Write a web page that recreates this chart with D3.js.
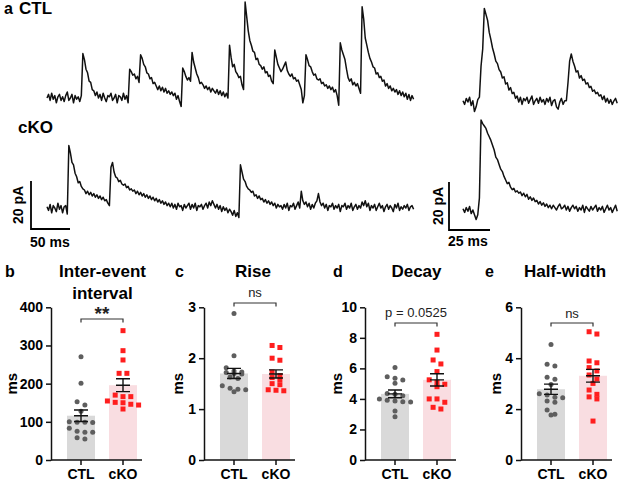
<!DOCTYPE html>
<html><head><meta charset="utf-8">
<script src="https://cdn.jsdelivr.net/npm/d3@7"></script>
<style>body{margin:0;background:#fff} svg{display:block} text{font-family:"Liberation Sans",Arial,sans-serif}</style>
</head><body><svg id="c" width="623" height="486"></svg>
<script>
// ---------------- DATA ----------------
// Example traces (pA above baseline), long traces sampled every 2 ms, short ones every 1 ms
const longStepMs = 2;
const shortStepMs = 1;
const ctlLong = [
 0,1.5,-1,2,-0.5,1,-2,0.5,1.5,-1,
 0.5,-1.5,1,2.5,-1,0,1.5,-2,1,-0.5,
 0.5,-1.5,1,18.5,16,12,10.5,7,6.5,3.5,
 3,1,2.5,0,1.5,-1,2,0,-1.5,1,
 0.5,2,-1,0,1.5,-2,1,0.5,-1,2,
 -0.5,1,-2,12,11,9.5,10,8,9,6.5,
 18,16.5,14,13,10.5,10,8,8.5,6,6.5,
 5,3.5,5,3,4.5,2.5,4,2,3,1.5,
 2.5,1,2,-0.5,1,-1.5,-3.5,12.5,11,9,
 7.5,8.5,7,19,15,12.5,10,8.5,6,6.5,
 5.5,4,5,3.5,4.5,2.5,4,3,2,3.5,
 1.5,3,1,2.5,0.5,2,0,22,17,13,
 14,11,10,8.5,9,5.5,3.5,40,34,28,
 24,22,19.5,19,16,16.5,14,13.5,12,13,
 10.5,11,9,9.5,7,6,20,17,14,12.5,
 11,12,13.5,15,11.5,10,9,10,8,8.5,
 7,7.5,5.5,3.5,-2,1,18,16,13.5,13,
 11,9.5,10,8,7.5,8,6,6.5,5,5.5,
 4,5,3.5,4.5,2.5,3.5,1,-3,23,20,
 18,16,12,8.5,7,8,5.5,6.5,5,6,
 4,2,38,33,25,22,19,16.5,15,13,
 12.5,10,10.5,8.5,9,7,7.5,5,6,4,
 5,3,4,2.5,3.5,1.5,3,1,2.5,0.5,
 2,-0.5,1.5,-1,1,-0.5
];
const ckoLong = [
 0.5,-1,1.5,-2,1,0,-1.5,2,-0.5,1,
 -2,0.5,1,-2.5,26,23,19,18,14.5,13,
 10.5,11,9,8,7.5,6,7,5.5,6.5,5,
 6,4.5,5.5,4,5,3.5,4.5,3,3.5,2,
 1,17,19,15,13,12.5,11,11.5,10,9.5,
 10,8.5,9,7.5,8,7,7.5,6,7,5.5,
 6.5,5,6,4.5,5.5,4,5,3.5,4.5,3,
 4,2.5,3.5,2,3,1.5,2.5,1,2,0.5,
 2,0,1.5,-0.5,2,0.5,1,-1,1.5,0,
 1,2,-0.5,1.5,0,2,-1,1,0.5,1.5,
 -0.5,1,2,0,2.5,1,3,1.5,0,1.5,
 -0.5,1,-1.5,0.5,-1,0,-2,-0.5,-1.5,-3,
 -1,-3.5,-2,-4,18,15,12,11,9,8,
 7.5,6.5,7,5,5.5,4,5,3.5,4,2.5,
 3.5,2,3,1.5,2.5,1,2,0,1.5,0.5,
 1,-0.5,1.5,0,2,-1,1,0.5,2,-0.5,
 1,2.5,0,7,3,1.5,2.5,0.5,2,-0.5,
 1.5,0,2,3,6,2.5,1,2,0,1.5,
 -1,1,0.5,2,-0.5,1,0,1.5,-1.5,1,
 0.5,2,-0.5,1,0,2,-1,0.5,1.5,-0.5,
 1,0,2.5,1,3,0.5,2,-1,1,0,
 1.5,-1,0.5,2,0,1,-1.5,0.5,1.5,-0.5,
 1,0,-1.5,1.5,0,2,-1,0.5,-0.5,1,
 0,1.5,-1,0.5,1,-0.5
];
const ctlShort = [
 0.5,-1,1.5,0,2,-1.5,0.5,-4,-2,1,
 2,15,22,39,36.5,34,29,26,22.5,20,
 17,16,13.5,12.5,10,10.5,7.5,8,5,6,
 3.5,4,1.5,2.5,0,2,-1,1.5,0.5,2,
 -0.5,1,2.5,-1,0.5,1.5,-0.5,2,0,1,
 -1,1.5,0,2,-1.5,0.5,1,-2,-3,0,
 1.5,-1,0.5,0.5,8,17,20,17,15,12.5,
 13,10,11,9,9.5,7.5,8,6,6.5,4.5,
 5,3.5,4,2.5,3,1,2.5,0,1.5,-0.5,
 1,-1,0.5,1.5,-0.5
];
const ckoShort = [
 0.5,-1,1,-0.5,1.5,-1.5,0,-2,-4,-2,
 5,37.5,36,35,34,32,30.5,29,27,25,
 22,21,19,17,16,14,12.5,11,11.5,9.5,
 8.5,9,7.5,8,7,7.5,6,7,5.5,6.5,
 4.5,5.5,4,5,3.5,4,2.5,3.5,2,3,
 1.5,2.5,1,2,0.5,2,1,0,1.5,2.5,
 0.5,1,2,0,1.5,-0.5,1,2,0.5,1.5,
 -0.5,1,0,2,-1,1.5,0.5,-0.5,1.5,0,
 1,2,-0.5,1,0,1.5,-1,0.5,2,0,
 1,-1,0.5,2,-0.5
];
const scaleBarPA = 20;
const scaleBarLongMs = 50;
const scaleBarShortMs = 25;

// Bar panels
const groups = ["CTL", "cKO"];
const panelLetters = ["b", "c", "d", "e"];
const panelTitles = [["Inter-event", "interval"], ["Rise"], ["Decay"], ["Half-width"]];
const yMaxes = [400, 3, 10, 6];
const yTickValues = [[0, 100, 200, 300, 400], [0, 1, 2, 3], [0, 2, 4, 6, 8, 10], [0, 2, 4, 6]];
const yLabel = "ms";
const meanValues = [[116, 196], [1.70, 1.69], [4.33, 5.25], [2.78, 3.31]];
const semValues = [[15, 17], [0.10, 0.08], [0.25, 0.40], [0.20, 0.25]];
const ctlPoints = [
  [270.6, 200.8, 152.8, 144, 128, 99, 99, 98, 100, 83, 75, 72.5, 73, 58.5, 55],
  [2.88, 2.05, 1.81, 1.75, 1.73, 1.72, 1.70, 1.69, 1.63, 1.60, 1.46, 1.41, 1.39, 1.38, 1.34],
  [6.05, 5.46, 5.35, 5.24, 5.02, 4.35, 4.30, 4.20, 4.00, 3.92, 3.86, 3.82, 3.80, 3.21, 2.84],
  [4.54, 3.76, 3.69, 3.25, 3.17, 2.97, 2.60, 2.55, 2.47, 2.45, 2.32, 2.27, 1.96, 1.80, 1.77]
];
const ckoPoints = [
  [338.8, 286.4, 262, 227, 227, 170, 166, 166, 154.6, 151, 150, 144, 146, 133.6],
  [2.25, 2.21, 2.00, 1.96, 1.73, 1.66, 1.62, 1.58, 1.50, 1.48, 1.38, 1.37, 1.36],
  [8.23, 7.20, 6.55, 6.29, 5.79, 5.25, 5.09, 4.96, 4.80, 4.00, 4.00, 3.78, 3.45, 3.34],
  [5.04, 4.95, 3.89, 3.82, 3.63, 3.50, 3.34, 3.18, 3.01, 2.75, 2.58, 2.48, 2.40, 1.53]
];
const sigLabels = ["**", "ns", "p = 0.0525", "ns"];

// ---------------- DRAW ----------------
const svg = d3.select("#c");
const FONT = '"Liberation Sans", Arial, sans-serif';

// Traces
const pxPerPA = 2.4;
const longX = d3.scaleLinear().domain([0, (ctlLong.length - 1) * longStepMs]).range([47, 413.6]);
const shortX = d3.scaleLinear().domain([0, (ctlShort.length - 1) * shortStepMs]).range([463, 617.2]);
function yFor(base) { return d3.scaleLinear().domain([0, scaleBarPA]).range([base, base - scaleBarPA * pxPerPA]); }

function drawTrace(vals, step, xs, ys) {
  const line = d3.line().x((d, i) => xs(i * step)).y(d => ys(d));
  svg.append("path").attr("d", line(vals)).attr("fill", "none")
    .attr("stroke", "#111").attr("stroke-width", 1.5).attr("stroke-linejoin", "round");
}
drawTrace(ctlLong, longStepMs, longX, yFor(98));
drawTrace(ckoLong, longStepMs, longX, yFor(208));
drawTrace(ctlShort, shortStepMs, shortX, yFor(102));
drawTrace(ckoShort, shortStepMs, shortX, yFor(210));

svg.append("text").attr("x", 4).attr("y", 14).attr("font-size", 16).attr("font-weight", "bold").text("a");
svg.append("text").attr("x", 19).attr("y", 14).attr("font-size", 17).attr("font-weight", "bold").text("CTL");
svg.append("text").attr("x", 18).attr("y", 133).attr("font-size", 17).attr("font-weight", "bold").text("cKO");

function scaleBar(x0, yb, xs, ms, labX, labY, msText) {
  const ys = yFor(yb);
  const len = xs(ms) - xs(0);
  svg.append("path").attr("d", `M${x0},${ys(scaleBarPA)}V${yb}H${x0 + len}`)
    .attr("fill", "none").attr("stroke", "#000").attr("stroke-width", 1.8);
  svg.append("text").attr("transform", `translate(${labX},${(ys(scaleBarPA) + yb) / 2}) rotate(-90)`)
    .attr("text-anchor", "middle").attr("font-size", 14).attr("font-weight", "bold").text(scaleBarPA + " pA");
  svg.append("text").attr("x", x0 - 1).attr("y", labY).attr("font-size", 14).attr("font-weight", "bold").text(msText);
}
scaleBar(31, 229, longX, scaleBarLongMs, 23, 247, scaleBarLongMs + " ms");
scaleBar(449, 230, shortX, scaleBarShortMs, 443, 246, scaleBarShortMs + " ms");

// Bar panels
const axisX = [51, 204, 365, 521];
const titleX = [102.5, 253, 416.5, 565];
const letterX = [5, 175, 333, 485];
const ylabOff = [34.5, 21.5, 23.5, 20];
const bracketY = [319, 303, 323, 323];
const sigY = [320, 297, 317, 318];
const sigSize = [19, 13, 13, 13];
const yTop = 307.3, yBot = 460;

function swarm(vals, ys, cx, spacing, rowH) {
  const pts = vals.map(v => ({ v, py: ys(v) })).sort((a, b) => a.py - b.py);
  const rows = []; let cur = null;
  for (const p of pts) {
    if (!cur || p.py - cur[0].py > rowH) { cur = [p]; rows.push(cur); } else cur.push(p);
  }
  rows.forEach(r => r.forEach((p, i) => { p.px = cx + (i - (r.length - 1) / 2) * spacing; }));
  return pts;
}

panelLetters.forEach((L, k) => {
  const x0 = axisX[k];
  const g = svg.append("g");
  const y = d3.scaleLinear().domain([0, yMaxes[k]]).range([yBot, yTop]);
  const x = d3.scaleBand().domain(groups).range([x0 + 9, x0 + 93]).paddingInner(1 / 3).paddingOuter(1 / 6);
  const bw = x.bandwidth();

  // letter + title
  g.append("text").attr("x", letterX[k]).attr("y", 277).attr("font-size", 16).attr("font-weight", "bold").text(L);
  panelTitles[k].forEach((t, j) => {
    g.append("text").attr("x", titleX[k]).attr("y", 277 + j * 22).attr("text-anchor", "middle")
      .attr("font-size", 17).attr("font-weight", "bold").text(t);
  });

  // bars
  const barColors = ["#d9d9d9", "#f9dde1"];
  groups.forEach((gr, i) => {
    g.append("rect").attr("x", x(gr)).attr("y", y(meanValues[k][i])).attr("width", bw)
      .attr("height", yBot - y(meanValues[k][i])).attr("fill", barColors[i]);
  });

  // points
  const ctlSw = swarm(ctlPoints[k], y, x("CTL") + bw / 2, 7.8, 4.5);
  g.selectAll(".pc").data(ctlSw).join("circle").attr("cx", d => d.px).attr("cy", d => d.py)
    .attr("r", 2.5).attr("fill", "#5e5e5e");
  const ckoSw = swarm(ckoPoints[k], y, x("cKO") + bw / 2, 7.8, 4.5);
  g.selectAll(".pk").data(ckoSw).join("rect").attr("x", d => d.px - 2.5).attr("y", d => d.py - 2.5)
    .attr("width", 5).attr("height", 5).attr("fill", "#ff1e1e");

  // error bars
  groups.forEach((gr, i) => {
    const cx = x(gr) + bw / 2;
    const m = meanValues[k][i], s = semValues[k][i];
    g.append("path").attr("d", `M${cx},${y(m - s)}V${y(m + s)}M${cx - 7},${y(m - s)}H${cx + 7}M${cx - 7},${y(m + s)}H${cx + 7}M${cx - 7},${y(m)}H${cx + 7}`)
      .attr("fill", "none").attr("stroke", "#111").attr("stroke-width", 1.4);
  });

  // axes
  const yAxis = d3.axisLeft(y).tickValues(yTickValues[k]).tickFormat(d3.format("d")).tickSize(5).tickPadding(3).tickSizeOuter(0);
  const ya = g.append("g").attr("transform", `translate(${x0},0)`).call(yAxis);
  const xAxis = d3.axisBottom(x).tickSize(5).tickPadding(4).tickSizeOuter(0);
  const xa = g.append("g").attr("transform", `translate(0,${yBot})`).call(xAxis);
  xa.select(".domain").attr("d", `M${x0},0H${x0 + 91}`);
  [ya, xa].forEach(a => {
    a.selectAll("path,line").attr("stroke", "#111").attr("stroke-width", 1.5);
    a.selectAll("text").attr("font-family", FONT).attr("font-size", 14).attr("font-weight", "bold").attr("fill", "#000");
  });

  // y label
  g.append("text").attr("transform", `translate(${x0 - ylabOff[k]},${(yTop + yBot) / 2}) rotate(-90)`)
    .attr("text-anchor", "middle").attr("font-size", 15).attr("font-weight", "bold").text(yLabel);

  // significance bracket
  const c1 = x("CTL") + bw / 2, c2 = x("cKO") + bw / 2, by = bracketY[k];
  g.append("path").attr("d", `M${c1},${by + 3.5}V${by}H${c2}V${by + 3.5}`).attr("fill", "none")
    .attr("stroke", "#333").attr("stroke-width", 1.2);
  g.append("text").attr("x", (c1 + c2) / 2).attr("y", sigY[k]).attr("text-anchor", "middle")
    .attr("font-size", sigSize[k]).attr("font-weight", k === 0 ? "bold" : "normal").attr("fill", "#222").text(sigLabels[k]);
});
</script>
</body></html>
